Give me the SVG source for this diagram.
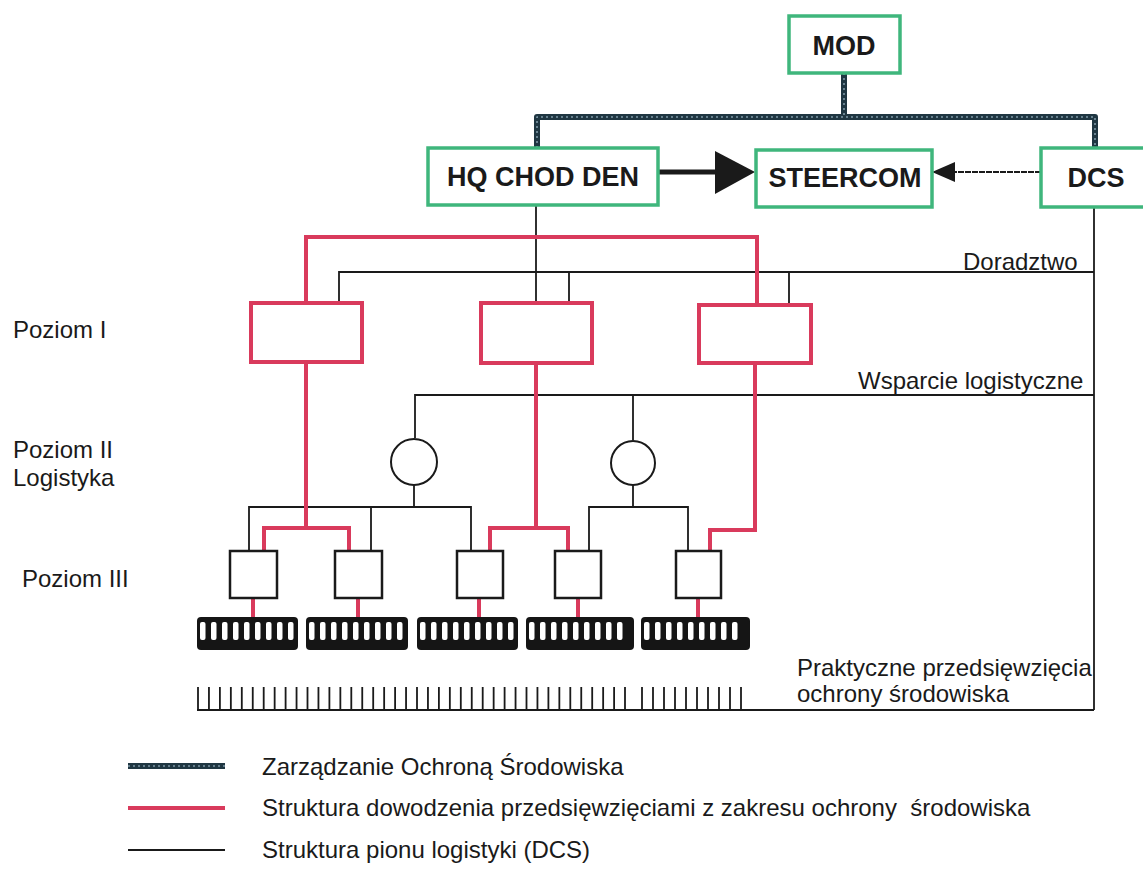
<svg xmlns="http://www.w3.org/2000/svg" width="1143" height="871" viewBox="0 0 1143 871">
  <style>
    .box-top { fill: #ffffff; stroke: #3fb67c; stroke-width: 3.5; }
    .box-red { fill: #ffffff; stroke: #d93a5c; stroke-width: 4; }
    .box-blk { fill: #ffffff; stroke: #1a1a1a; stroke-width: 2.5; }
    .circ { fill: #ffffff; stroke: #1a1a1a; stroke-width: 2; }
    .mgmt { fill: none; stroke: #1f3642; stroke-width: 6; stroke-linejoin: round; }
    .mgmt-tex { fill: none; stroke: #7d98a6; stroke-width: 1.6; stroke-dasharray: 2 3; stroke-linejoin: round; }
    .cmd { fill: none; stroke: #d93a5c; stroke-width: 4; stroke-linejoin: miter; }
    .log { fill: none; stroke: #1a1a1a; stroke-width: 1.8; }
    .lbl-b { font-family: "Liberation Sans", Arial, sans-serif; font-weight: bold; font-size: 27px; fill: #1a1a1a; text-anchor: middle; }
    .lbl { font-family: "Liberation Sans", Arial, sans-serif; font-size: 24px; fill: #1a1a1a; white-space: pre; }
  </style>
  <defs>
    <!-- white slots of the comb-shaped unit rows -->
    <pattern id="slots" patternUnits="userSpaceOnUse" x="0" y="0" width="11" height="33">
      <rect x="3" y="5" width="5.5" height="18" rx="2" fill="#ffffff"/>
    </pattern>
  </defs>

  <rect width="1143" height="871" fill="#ffffff"/>

  <!-- connectors -->
  <g id="connectors">
    <!-- environmental management (MOD level) -->
    <path class="mgmt" d="M844 73 V117 M537 148 V117 H1095 V148"/>
    <path class="mgmt-tex" d="M844 73 V117 M537 148 V117 H1095 V148"/>

    <!-- HQ -> STEERCOM thick arrow -->
    <line x1="658" y1="172" x2="720" y2="172" stroke="#1a1a1a" stroke-width="5"/>
    <polygon points="715,151 755,172 715,194" fill="#1a1a1a"/>
    <!-- DCS -> STEERCOM thin arrow -->
    <line x1="1041" y1="172" x2="952" y2="172" stroke="#1a1a1a" stroke-width="1.8" stroke-dasharray="6 1"/>
    <polygon points="955,162 932,172 955,182" fill="#1a1a1a"/>

    <!-- logistics chain (DCS) -->
    <path class="log" d="M536 205 V303"/>
    <path class="log" d="M1094 207 V710"/>
    <path class="log" d="M339 303 V272 H1094 M569 272 V303 M789 272 V305"/>
    <path class="log" d="M415 438 V395 H1094 M633 395 V440"/>
    <path class="log" d="M414 485 V507 M249 551 V507 H471 V551 M371 507 V551"/>
    <path class="log" d="M633 485 V507 M589 551 V507 H688 V551"/>

    <!-- command structure -->
    <path class="cmd" d="M306 302 V237 H757 V305"/>
    <path class="cmd" d="M306 362 V528 M264 551 V528 H349 V551"/>
    <path class="cmd" d="M536 363 V528 M490 551 V528 H568 V551"/>
    <path class="cmd" d="M755 363 V530 H710 V551"/>
    <path class="cmd" d="M253 598 V618 M358 598 V618 M479 598 V618 M578 598 V618 M698 598 V618"/>

    <!-- practical measures baseline with ticks -->
    <path class="log" d="M197 710 H1094"/>
    <path class="log" stroke-width="1.7" d="M198 710V687M208.95 710V687M219.9 710V687M230.85 710V687M241.8 710V687M252.75 710V687M263.7 710V687M274.65 710V687M285.6 710V687M296.55 710V687M307.5 710V687M318.45 710V687M329.4 710V687M340.35 710V687M351.3 710V687M362.25 710V687M373.2 710V687M384.15 710V687M395.1 710V687M406.05 710V687M417 710V687M427.95 710V687M438.9 710V687M449.85 710V687M460.8 710V687M471.75 710V687M482.7 710V687M493.65 710V687M504.6 710V687M515.55 710V687M526.5 710V687M537.45 710V687M548.4 710V687M559.35 710V687M570.3 710V687M581.25 710V687M592.2 710V687M603.15 710V687M614.1 710V687M625 710V687M642 710V687M653 710V687M664 710V687M675 710V687M686 710V687M697 710V687M708 710V687M719 710V687M730 710V687M741 710V687"/>
  </g>

  <!-- top level nodes -->
  <g id="mod">
    <rect class="box-top" x="789" y="16" width="111" height="57"/>
    <text class="lbl-b" x="844" y="55">MOD</text>
  </g>
  <g id="hq-chod-den">
    <rect class="box-top" x="428" y="148" width="230" height="57"/>
    <text class="lbl-b" x="543" y="186">HQ CHOD DEN</text>
  </g>
  <g id="steercom">
    <rect class="box-top" x="756" y="150" width="176" height="57"/>
    <text class="lbl-b" x="845" y="187">STEERCOM</text>
  </g>
  <g id="dcs">
    <rect class="box-top" x="1041" y="148" width="130" height="59"/>
    <text class="lbl-b" x="1096" y="187">DCS</text>
  </g>

  <!-- level I -->
  <g id="level1-a"><rect class="box-red" x="251" y="303" width="111" height="59"/></g>
  <g id="level1-b"><rect class="box-red" x="481" y="303" width="111" height="60"/></g>
  <g id="level1-c"><rect class="box-red" x="699" y="305" width="112" height="58"/></g>

  <!-- level II logistics -->
  <g id="level2-a"><circle class="circ" cx="414" cy="462" r="23"/></g>
  <g id="level2-b"><circle class="circ" cx="633" cy="463" r="22"/></g>

  <!-- level III -->
  <g id="level3-a"><rect class="box-blk" x="230" y="551" width="47" height="47"/></g>
  <g id="level3-b"><rect class="box-blk" x="335" y="551" width="47" height="47"/></g>
  <g id="level3-c"><rect class="box-blk" x="457" y="551" width="46" height="47"/></g>
  <g id="level3-d"><rect class="box-blk" x="555" y="551" width="46" height="47"/></g>
  <g id="level3-e"><rect class="box-blk" x="676" y="551" width="45" height="47"/></g>

  <!-- unit rows -->
  <g id="units-a" transform="translate(197,617)">
    <rect width="101" height="33" rx="4" fill="#151515"/>
    <rect x="2" width="99" height="33" fill="url(#slots)"/>
  </g>
  <g id="units-b" transform="translate(306,617)">
    <rect width="102" height="33" rx="4" fill="#151515"/>
    <rect x="2" width="99" height="33" fill="url(#slots)"/>
  </g>
  <g id="units-c" transform="translate(417,617)">
    <rect width="101" height="33" rx="4" fill="#151515"/>
    <rect x="2" width="99" height="33" fill="url(#slots)"/>
  </g>
  <g id="units-d" transform="translate(526,617)">
    <rect width="108" height="33" rx="4" fill="#151515"/>
    <rect x="2" width="99" height="33" fill="url(#slots)"/>
  </g>
  <g id="units-e" transform="translate(641,617)">
    <rect width="109" height="33" rx="4" fill="#151515"/>
    <rect x="2" width="99" height="33" fill="url(#slots)"/>
  </g>

  <!-- side and line labels -->
  <g id="labels">
    <text class="lbl" x="13" y="338">Poziom I</text>
    <text class="lbl" x="13" y="458">Poziom II</text>
    <text class="lbl" x="13" y="486">Logistyka</text>
    <text class="lbl" x="22" y="587">Poziom III</text>
    <text class="lbl" x="963" y="270">Doradztwo</text>
    <text class="lbl" x="858" y="389">Wsparcie logistyczne</text>
    <text class="lbl" x="797" y="676">Praktyczne przedsięwzięcia</text>
    <text class="lbl" x="797" y="702">ochrony środowiska</text>
  </g>

  <!-- legend -->
  <g id="legend">
    <line class="mgmt" x1="128" y1="766" x2="225" y2="766"/>
    <line class="mgmt-tex" x1="128" y1="766" x2="225" y2="766"/>
    <text class="lbl" x="262" y="775">Zarządzanie Ochroną Środowiska</text>
    <line class="cmd" x1="128" y1="808" x2="225" y2="808"/>
    <text class="lbl" x="262" y="816" xml:space="preserve">Struktura dowodzenia przedsięwzięciami z zakresu ochrony  środowiska</text>
    <line class="log" x1="128" y1="850" x2="225" y2="850"/>
    <text class="lbl" x="262" y="858">Struktura pionu logistyki (DCS)</text>
  </g>
</svg>
